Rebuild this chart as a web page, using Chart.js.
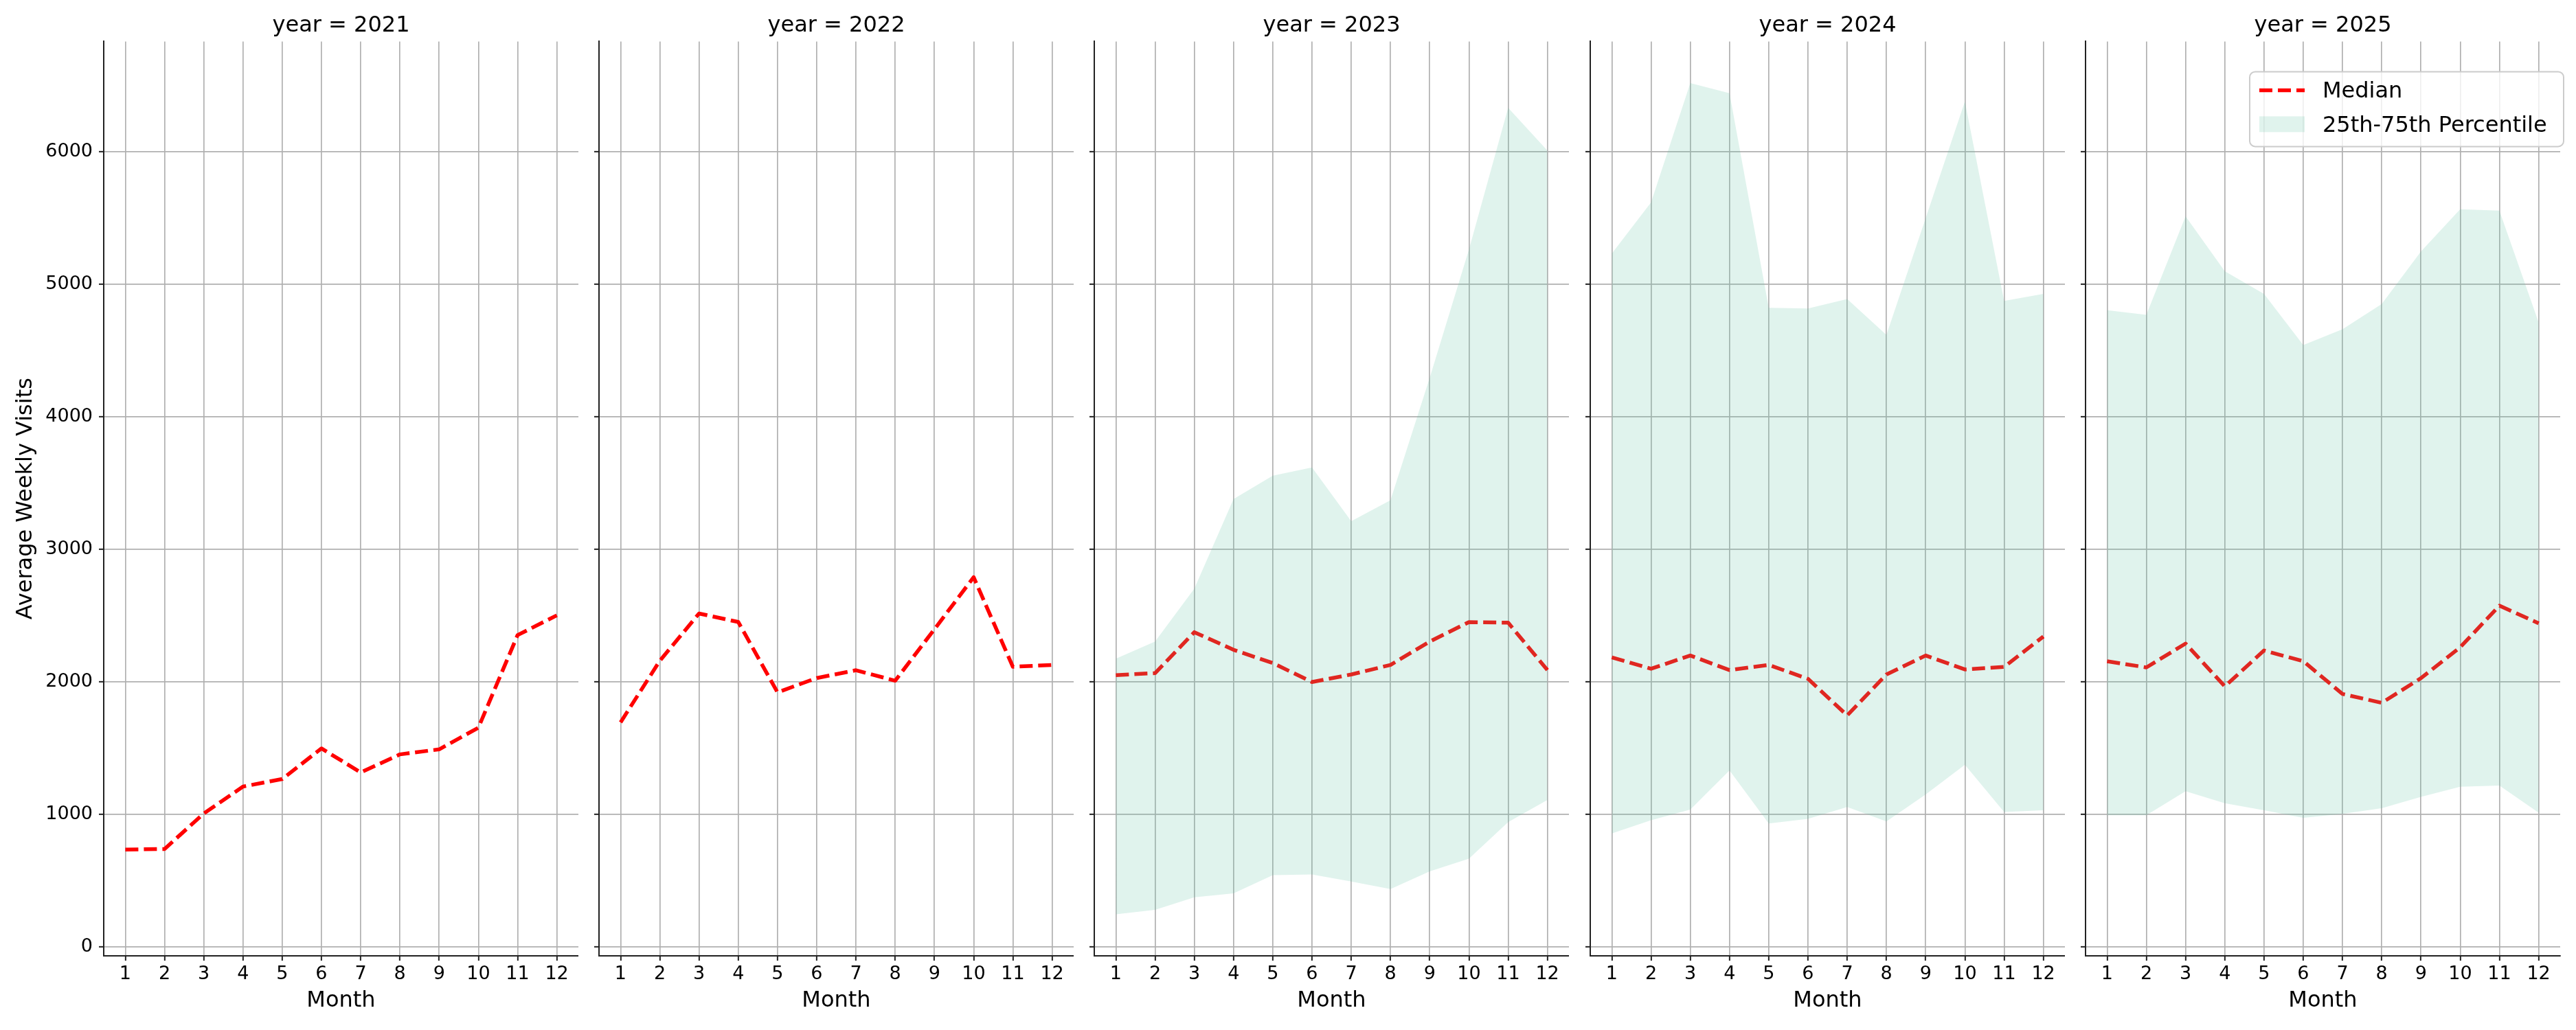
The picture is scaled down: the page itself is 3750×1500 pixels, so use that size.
<!DOCTYPE html>
<html>
<head>
<meta charset="utf-8">
<title>Average Weekly Visits by Month</title>
<script src="https://cdn.jsdelivr.net/npm/chart.js@4.4.1/dist/chart.umd.min.js"></script>
<style>
    html, body { margin: 0; padding: 0; background: #fff; }
    #figure { position: relative; width: 3750px; height: 1500px; overflow: hidden; background: #fff; }
    #figure canvas { position: absolute; top: 0; }
</style>
</head>
<body>
<div id="figure"></div>
<script>
// Values
const months = [1, 2, 3, 4, 5, 6, 7, 8, 9, 10, 11, 12];
const years = [2021, 2022, 2023, 2024, 2025];
const yTicks = [0, 1000, 2000, 3000, 4000, 5000, 6000];

const median2021 = [736, 740, 1008, 1211, 1268, 1499, 1318, 1454, 1492, 1655, 2354, 2503];
const median2022 = [1696, 2160, 2517, 2453, 1922, 2030, 2089, 2010, 2398, 2791, 2115, 2129];
const median2023 = [2052, 2067, 2376, 2243, 2143, 2000, 2057, 2129, 2305, 2452, 2448, 2090];
const median2024 = [2186, 2100, 2200, 2090, 2129, 2024, 1748, 2057, 2200, 2095, 2114, 2343];
const median2025 = [2157, 2110, 2290, 1967, 2238, 2157, 1910, 1843, 2029, 2262, 2576, 2443];

// 25th / 75th percentile (no band for 2021 and 2022)
const p25_2023 = [248, 281, 376, 405, 543, 548, 495, 438, 571, 667, 943, 1110];
const p75_2023 = [2176, 2305, 2705, 3381, 3557, 3619, 3214, 3371, 4295, 5262, 6333, 6010];
const p25_2024 = [857, 957, 1038, 1333, 933, 967, 1057, 948, 1152, 1376, 1019, 1033];
const p75_2024 = [5233, 5619, 6519, 6443, 4824, 4819, 4890, 4619, 5500, 6381, 4876, 4929];
const p25_2025 = [995, 995, 1176, 1086, 1033, 976, 1005, 1048, 1133, 1210, 1219, 1014];
const p75_2025 = [4805, 4771, 5514, 5100, 4929, 4543, 4662, 4852, 5248, 5567, 5557, 4714];

const medians = [median2021, median2022, median2023, median2024, median2025];
const lowers = [null, null, p25_2023, p25_2024, p25_2025];
const uppers = [null, null, p75_2023, p75_2024, p75_2025];

// Layout and style
const FONT = '"DejaVu Sans", sans-serif';
const FIG_H = 1500;
const PLOT_BOTTOM = 1392;
const PLOT_W = 691;
const SPINE_X = [151, 872, 1593, 2315, 3036];
const INK = '#222222';
const GRID = '#b0b0b0';
const BAND = 'rgba(102, 194, 165, 0.2)';

Chart.defaults.font.family = FONT;
Chart.defaults.color = '#000';

/**
 * Draw the framed legend in the top right of a panel
 */
const frameLegend = {
    id: 'frameLegend',
    afterDraw(chart, args, opts) {
        if (!opts.show) return;
        const { ctx, chartArea } = chart;
        const median = chart.data.datasets.find(d => d.label === 'Median');
        const band = chart.data.datasets.find(d => d.label === '25th-75th Percentile');
        const w = 457, h = 109;
        const x0 = chartArea.right + 5 - w;
        const y0 = chartArea.top + 44;

        ctx.save();
        ctx.beginPath();
        ctx.roundRect(x0, y0, w, h, 8);
        ctx.fillStyle = 'rgba(255, 255, 255, 0.8)';
        ctx.fill();
        ctx.lineWidth = 2;
        ctx.strokeStyle = '#cccccc';
        ctx.stroke();

        // line sample
        ctx.beginPath();
        ctx.setLineDash(median.borderDash);
        ctx.lineWidth = median.borderWidth;
        ctx.strokeStyle = median.borderColor;
        ctx.moveTo(x0 + 14, y0 + 27);
        ctx.lineTo(x0 + 80, y0 + 27);
        ctx.stroke();
        ctx.setLineDash([]);

        // band sample
        ctx.fillStyle = band.backgroundColor;
        ctx.fillRect(x0 + 14, y0 + 65, 66, 23);

        ctx.fillStyle = '#000';
        ctx.font = '32px ' + FONT;
        ctx.textBaseline = 'alphabetic';
        ctx.textAlign = 'left';
        ctx.fillText(median.label, x0 + 106, y0 + 38);
        ctx.fillText(band.label, x0 + 106, y0 + 88);
        ctx.restore();
    }
};

function toPoints(values) {
    return values.map((v, i) => ({ x: months[i], y: v }));
}

/**
 * Build one facet panel
 */
function makePanel(idx) {
    const first = idx === 0;
    const last = idx === years.length - 1;
    const axisW = first ? SPINE_X[0] : 20;
    const extraRight = last ? 10 : 0;

    const canvas = document.createElement('canvas');
    canvas.width = axisW + PLOT_W + extraRight;
    canvas.height = FIG_H;
    canvas.style.left = (SPINE_X[idx] - axisW) + 'px';
    canvas.style.width = canvas.width + 'px';
    canvas.style.height = FIG_H + 'px';
    document.getElementById('figure').appendChild(canvas);

    const datasets = [];
    if (lowers[idx]) {
        datasets.push({
            label: '25th percentile',
            data: toPoints(lowers[idx]),
            borderColor: 'rgba(0,0,0,0)',
            borderWidth: 0,
            pointRadius: 0,
            fill: false
        });
        datasets.push({
            label: '25th-75th Percentile',
            data: toPoints(uppers[idx]),
            borderColor: 'rgba(0,0,0,0)',
            borderWidth: 0,
            pointRadius: 0,
            backgroundColor: BAND,
            fill: '-1'
        });
    }
    datasets.push({
        label: 'Median',
        data: toPoints(medians[idx]),
        borderColor: '#ff0000',
        borderWidth: 5.5,
        borderDash: [19, 8],
        borderJoinStyle: 'round',
        pointRadius: 0,
        tension: 0,
        fill: false
    });

    const gridOpts = { color: GRID, lineWidth: 1.7, tickColor: INK, tickLength: 7, tickWidth: 2 };
    const borderOpts = { display: true, color: INK, width: 2 };

    return new Chart(canvas, {
        type: 'line',
        data: { datasets },
        plugins: [frameLegend],
        options: {
            responsive: false,
            animation: false,
            devicePixelRatio: 1,
            layout: { padding: { left: 0, right: extraRight, top: 0, bottom: 0 } },
            scales: {
                x: {
                    type: 'linear',
                    min: 0.45,
                    max: 12.55,
                    afterBuildTicks: axis => { axis.ticks = months.map(v => ({ value: v })); },
                    afterFit: axis => { axis.height = FIG_H - PLOT_BOTTOM; },
                    grid: gridOpts,
                    border: borderOpts,
                    ticks: {
                        color: '#000',
                        font: { size: 27 },
                        padding: 4,
                        maxRotation: 0,
                        autoSkip: false,
                        callback: v => String(v)
                    },
                    title: {
                        display: true,
                        text: 'Month',
                        color: '#000',
                        font: { size: 32 },
                        padding: { top: 0, bottom: 23 }
                    }
                },
                y: {
                    min: -66,
                    max: 6833,
                    afterBuildTicks: axis => { axis.ticks = yTicks.map(v => ({ value: v })); },
                    afterFit: axis => { axis.width = axisW; },
                    grid: gridOpts,
                    border: borderOpts,
                    ticks: {
                        display: first,
                        color: '#000',
                        font: { size: 27 },
                        padding: 9,
                        callback: v => String(v)
                    },
                    title: {
                        display: first,
                        text: 'Average Weekly Visits',
                        color: '#000',
                        font: { size: 32 },
                        padding: { top: 18, bottom: 0 }
                    }
                }
            },
            plugins: {
                legend: { display: false },
                tooltip: { enabled: false },
                title: {
                    display: true,
                    fullSize: false,
                    text: 'year = ' + years[idx],
                    color: '#000',
                    font: { size: 32, weight: 'normal' },
                    padding: { top: 18, bottom: 4 }
                },
                frameLegend: { show: last }
            }
        }
    });
}

years.forEach((year, i) => makePanel(i));
</script>
</body>
</html>
